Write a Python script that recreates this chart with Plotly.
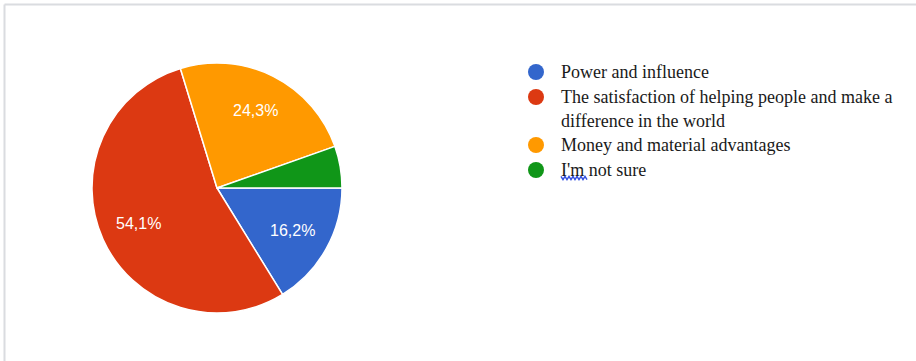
import math
import plotly.graph_objects as go

# Survey answers: what motivates people (37 responses)
categories = [
    "Power and influence",
    "The satisfaction of helping people and make a difference in the world",
    "Money and material advantages",
    "I'm not sure",
]
counts = [6, 20, 9, 2]
colors = ["#3366cc", "#dc3912", "#ff9900", "#109618"]
# legend text lines (long entry wraps onto two lines)
legend_lines = [
    ["Power and influence"],
    ["The satisfaction of helping people and make a", "difference in the world"],
    ["Money and material advantages"],
    ["I'm not sure"],
]

W, H = 916, 361
CX, CY, R = 217, 188, 125  # pie centre and radius in pixels
START_DEG = 90             # first slice starts at 3 o'clock, clockwise
total = sum(counts)

def px_x(x):
    return x / W

def px_y(y):
    return 1 - y / H

fig = go.Figure()
fig.add_trace(go.Pie(
    labels=categories,
    values=counts,
    sort=False,
    direction="clockwise",
    rotation=START_DEG,
    marker=dict(colors=colors, line=dict(color="white", width=1.5)),
    textinfo="none",
    domain=dict(x=[px_x(CX - R), px_x(CX + R)], y=[px_y(CY + R), px_y(CY - R)]),
    showlegend=False,
    hoverinfo="label+percent",
))

shapes = []
annotations = []

# percentage labels at the middle angle of each slice (small slices unlabeled)
angle = START_DEG
for c in counts:
    frac = c / total
    sweep = frac * 360
    mid = math.radians(angle + sweep / 2)
    angle += sweep
    if frac < 0.1:
        continue
    rr = 0.69 * R
    lx = CX + rr * math.sin(mid)
    ly = CY - rr * math.cos(mid)
    annotations.append(dict(
        xref="paper", yref="paper", x=px_x(lx), y=px_y(ly),
        xanchor="center", yanchor="middle", showarrow=False,
        text=f"{frac * 100:.1f}%".replace(".", ","),
        font=dict(family="Liberation Sans, Arial", size=16, color="white"),
    ))

# panel frame: top and left edges
shapes.append(dict(type="line", xref="paper", yref="paper",
                   x0=px_x(4.5), x1=1, y0=px_y(4.5), y1=px_y(4.5),
                   line=dict(color="#dadce0", width=2)))
shapes.append(dict(type="line", xref="paper", yref="paper",
                   x0=px_x(4.5), x1=px_x(4.5), y0=px_y(4.5), y1=0,
                   line=dict(color="#dadce0", width=2)))

# custom legend with round swatches
row_y = 72
line_step = 24
for color, lines in zip(colors, legend_lines):
    r = 8
    shapes.append(dict(type="circle", xref="paper", yref="paper",
                       x0=px_x(536 - r), x1=px_x(536 + r),
                       y0=px_y(row_y + r), y1=px_y(row_y - r),
                       fillcolor=color, line=dict(width=0)))
    for i, line in enumerate(lines):
        annotations.append(dict(
            xref="paper", yref="paper", x=px_x(559), y=px_y(row_y + i * line_step),
            xanchor="left", yanchor="middle", text=line, showarrow=False,
            font=dict(family="Liberation Serif, Times New Roman", size=18, color="#1a1a1a"),
        ))
    row_y += line_step * len(lines) + (1 if len(lines) == 1 else 0)

# spell-check squiggle under "I'm"
sx, sy = 561, 178
pts = []
for k in range(14):
    pts.append((sx + k * 2, sy + (1.6 if k % 2 else -1.6)))
path = "M " + " L ".join(f"{px_x(x)},{px_y(y)}" for x, y in pts)
shapes.append(dict(type="path", xref="paper", yref="paper", path=path,
                   line=dict(color="#3551e0", width=1.5)))

fig.update_layout(
    width=W, height=H,
    margin=dict(l=0, r=0, t=0, b=0),
    paper_bgcolor="white",
    plot_bgcolor="white",
    shapes=shapes,
    annotations=annotations,
)

fig.write_html("out.html")
